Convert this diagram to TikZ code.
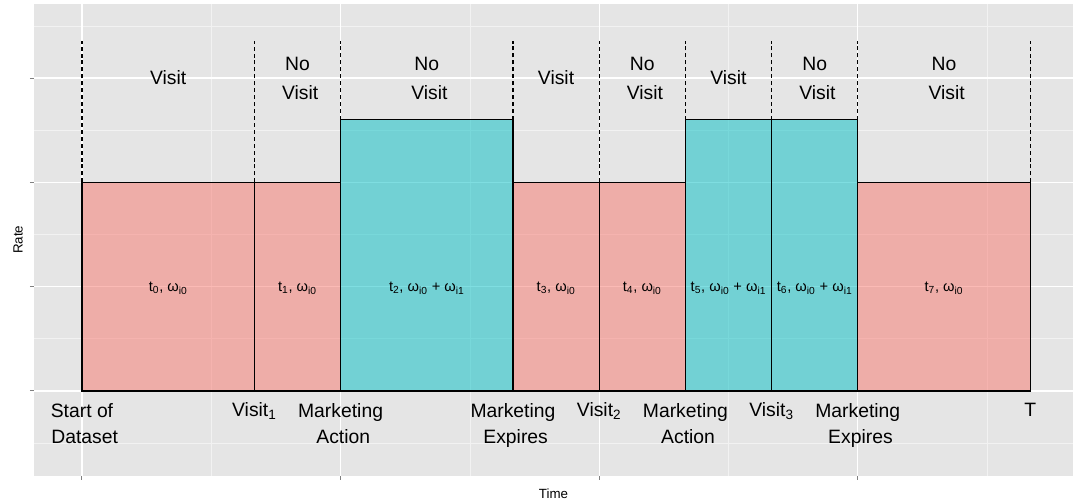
\documentclass[tikz,border=0pt]{standalone}
\usepackage{fontspec}
\setmainfont{Liberation Sans}

\definecolor{panelbg}{HTML}{E5E5E5}
\definecolor{minorcol}{HTML}{F2F2F2}
\definecolor{pinkfill}{HTML}{F8766D}
\definecolor{cyanfill}{HTML}{00BFC4}

\begin{document}
\begin{tikzpicture}[x=64.65pt,y=78.2pt]
\tikzset{pinkbar/.style = {draw=black, line width=1pt, fill=pinkfill, fill opacity=0.5}}
\tikzset{cyanbar/.style = {draw=black, line width=1pt, fill=cyanfill, fill opacity=0.5}}
\tikzset{boundary/.style = {line width=0.9pt, dash pattern=on 3pt off 2.2pt}}
\tikzset{majorgrid/.style = {white, line width=1pt}}
\tikzset{minorgrid/.style = {minorcol, line width=0.5pt}}
\tikzset{axtick/.style = {gray, line width=0.75pt}}
\tikzset{state/.style = {align=center, anchor=base, inner sep=0pt, font=\fontsize{14.5pt}{21.75pt}\selectfont}}
\tikzset{event/.style = {align=center, anchor=base, inner sep=0pt, font=\fontsize{14.5pt}{20pt}\selectfont}}
\tikzset{rate/.style = {anchor=base, inner sep=0pt, font=\fontsize{11pt}{13pt}\selectfont}}
\tikzset{axtitle/.style = {inner sep=0pt, font=\fontsize{10pt}{12pt}\selectfont}}

\useasboundingbox (-0.951,-1.083) rectangle (11.497,3.749);

%panel
\fill[panelbg] (-0.557,-0.815) rectangle (11.497,3.711);

% ----- minor grid
\draw[minorgrid] (-0.557,-0.5) -- (11.497,-0.5);
\draw[minorgrid] (-0.557,0.5) -- (11.497,0.5);
\draw[minorgrid] (-0.557,1.5) -- (11.497,1.5);
\draw[minorgrid] (-0.557,2.5) -- (11.497,2.5);
\draw[minorgrid] (-0.557,3.5) -- (11.497,3.5);
\draw[minorgrid] (1.5,-0.815) -- (1.5,3.711);
\draw[minorgrid] (4.5,-0.815) -- (4.5,3.711);
\draw[minorgrid] (7.5,-0.815) -- (7.5,3.711);
\draw[minorgrid] (10.5,-0.815) -- (10.5,3.711);

% ----- major grid
\draw[majorgrid] (-0.557,0) -- (11.497,0);
\draw[majorgrid] (-0.557,1) -- (11.497,1);
\draw[majorgrid] (-0.557,2) -- (11.497,2);
\draw[majorgrid] (-0.557,3) -- (11.497,3);
\draw[majorgrid] (0,-0.815) -- (0,3.711);
\draw[majorgrid] (3,-0.815) -- (3,3.711);
\draw[majorgrid] (6,-0.815) -- (6,3.711);
\draw[majorgrid] (9,-0.815) -- (9,3.711);

% ----- ticks
\draw[axtick] (-0.603,0) -- (-0.557,0);
\draw[axtick] (-0.603,1) -- (-0.557,1);
\draw[axtick] (-0.603,2) -- (-0.557,2);
\draw[axtick] (-0.603,3) -- (-0.557,3);
\draw[axtick] (0,-0.815) -- (0,-0.853);
\draw[axtick] (3,-0.815) -- (3,-0.853);
\draw[axtick] (6,-0.815) -- (6,-0.853);
\draw[axtick] (9,-0.815) -- (9,-0.853);

%bars
\draw[pinkbar] (0,0) rectangle (2,2);
\draw[pinkbar] (2,0) rectangle (3,2);
\draw[cyanbar] (3,0) rectangle (5,2.6);
\draw[pinkbar] (5,0) rectangle (6,2);
\draw[pinkbar] (6,0) rectangle (7,2);
\draw[cyanbar] (7,0) rectangle (8,2.6);
\draw[cyanbar] (8,0) rectangle (9,2.6);
\draw[pinkbar] (9,0) rectangle (11,2);

%boundaries
\draw[boundary] (0,2) -- (0,3.356);
\draw[boundary] (2,2) -- (2,3.356);
\draw[boundary] (3,2.6) -- (3,3.356);
\draw[boundary] (5,2.6) -- (5,3.356);
\draw[boundary] (6,2) -- (6,3.356);
\draw[boundary] (7,2.6) -- (7,3.356);
\draw[boundary] (8,2.6) -- (8,3.356);
\draw[boundary] (9,2.6) -- (9,3.356);
\draw[boundary] (11,2) -- (11,3.356);

% ----- states (base = last line)
\node[state] (st0) at (1,2.934) {Visit};
\node[state] (st1) at (2.5,2.790) {No~\\~Visit};
\node[state] (st2) at (4,2.790) {No~\\~Visit};
\node[state] (st3) at (5.5,2.934) {Visit};
\node[state] (st4) at (6.5,2.790) {No~\\~Visit};
\node[state] (st5) at (7.5,2.934) {Visit};
\node[state] (st6) at (8.5,2.790) {No~\\~Visit};
\node[state] (st7) at (10,2.790) {No~\\~Visit};

% ----- rates
\node[rate] (r0) at (1,0.951) {t\textsubscript{0}, ω\textsubscript{i0}};
\node[rate] (r1) at (2.5,0.951) {t\textsubscript{1}, ω\textsubscript{i0}};
\node[rate] (r2) at (4,0.951) {t\textsubscript{2}, ω\textsubscript{i0} + ω\textsubscript{i1}};
\node[rate] (r3) at (5.5,0.951) {t\textsubscript{3}, ω\textsubscript{i0}};
\node[rate] (r4) at (6.5,0.951) {t\textsubscript{4}, ω\textsubscript{i0}};
\node[rate] (r5) at (7.5,0.951) {t\textsubscript{5}, ω\textsubscript{i0} + ω\textsubscript{i1}};
\node[rate] (r6) at (8.5,0.951) {t\textsubscript{6}, ω\textsubscript{i0} + ω\textsubscript{i1}};
\node[rate] (r7) at (10,0.951) {t\textsubscript{7}, ω\textsubscript{i0}};

% ----- events
\node[event] (ev0) at (0,-0.508) {Start of~\\~Dataset};
\node[event] (ev1) at (2,-0.249) {Visit\textsubscript{1}};
\node[event] (ev2) at (3,-0.508) {Marketing~\\~Action};
\node[event] (ev3) at (5,-0.508) {Marketing~\\~Expires};
\node[event] (ev4) at (6,-0.249) {Visit\textsubscript{2}};
\node[event] (ev5) at (7,-0.508) {Marketing~\\~Action};
\node[event] (ev6) at (8,-0.249) {Visit\textsubscript{3}};
\node[event] (ev7) at (9,-0.508) {Marketing~\\~Expires};
\node[event] (ev8) at (11,-0.249) {T};

%axis titles
\node[axtitle, anchor=base] (xlab) at (5.47,-1.029) {Time};
\node[axtitle, rotate=90] (ylab) at (-0.742,1.448) {Rate};
\end{tikzpicture}
\end{document}
